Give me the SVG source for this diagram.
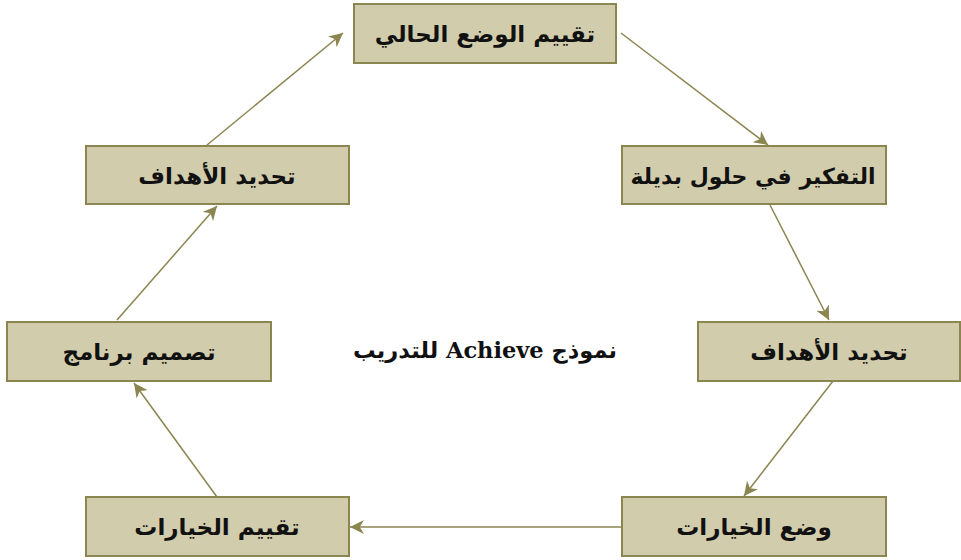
<svg xmlns="http://www.w3.org/2000/svg" width="961" height="560" viewBox="0 0 961 560">
<style>
.box{fill:#D1CCAB;stroke:#8B8550;stroke-width:2}
.t{font-family:"DejaVu Sans",sans-serif;font-weight:bold;font-size:23px;fill:#111;text-anchor:middle}
.c{font-family:"DejaVu Serif","DejaVu Sans",serif;font-weight:bold;font-size:22.5px;fill:#111;text-anchor:middle}
.ln{stroke:#8B8550;stroke-width:1.5;fill:none;marker-end:url(#ah)}
</style>
<defs>
<marker id="ah" viewBox="0 0 10 10" refX="10" refY="5" markerWidth="14" markerHeight="14" markerUnits="userSpaceOnUse" orient="auto">
<path d="M0,0 L10,5 L0,10 L3,5 Z" fill="#8B8550"/>
</marker>
</defs>
<rect width="961" height="560" fill="#fff"/>
<g id="connectors">
<line class="ln" x1="621" y1="33" x2="768" y2="145"/>
<line class="ln" x1="770" y1="205" x2="829" y2="320"/>
<line class="ln" x1="833" y1="381" x2="744" y2="496"/>
<line class="ln" x1="622" y1="527" x2="350" y2="527"/>
<line class="ln" x1="217" y1="497" x2="134" y2="383"/>
<line class="ln" x1="117" y1="320" x2="217" y2="206"/>
<line class="ln" x1="207" y1="145" x2="343" y2="33"/>
</g>
<g id="n1"><rect class="box" x="354" y="4" width="262" height="59"/><text class="t" x="485" y="42" direction="rtl">تقييم الوضع الحالي</text></g>
<g id="n2"><rect class="box" x="622" y="146" width="264" height="58"/><text class="t" x="753" y="184" direction="rtl" style="font-size:22px">التفكير في حلول بديلة</text></g>
<g id="n3"><rect class="box" x="698" y="322" width="262" height="59"/><text class="t" x="829" y="360" direction="rtl">تحديد الأهداف</text></g>
<g id="n4"><rect class="box" x="622" y="497" width="264" height="59"/><text class="t" x="754" y="535" direction="rtl">وضع الخيارات</text></g>
<g id="n5"><rect class="box" x="86" y="497" width="263" height="59"/><text class="t" x="217" y="535" direction="rtl">تقييم الخيارات</text></g>
<g id="n6"><rect class="box" x="7" y="322" width="264" height="59"/><text class="t" x="139" y="360" direction="rtl">تصميم برنامج</text></g>
<g id="n7"><rect class="box" x="86" y="146" width="263" height="58"/><text class="t" x="217" y="184" direction="rtl">تحديد الأهداف</text></g>
<g id="label"><text class="c" x="485" y="358" direction="rtl">نموذج Achieve للتدريب</text></g>
</svg>
